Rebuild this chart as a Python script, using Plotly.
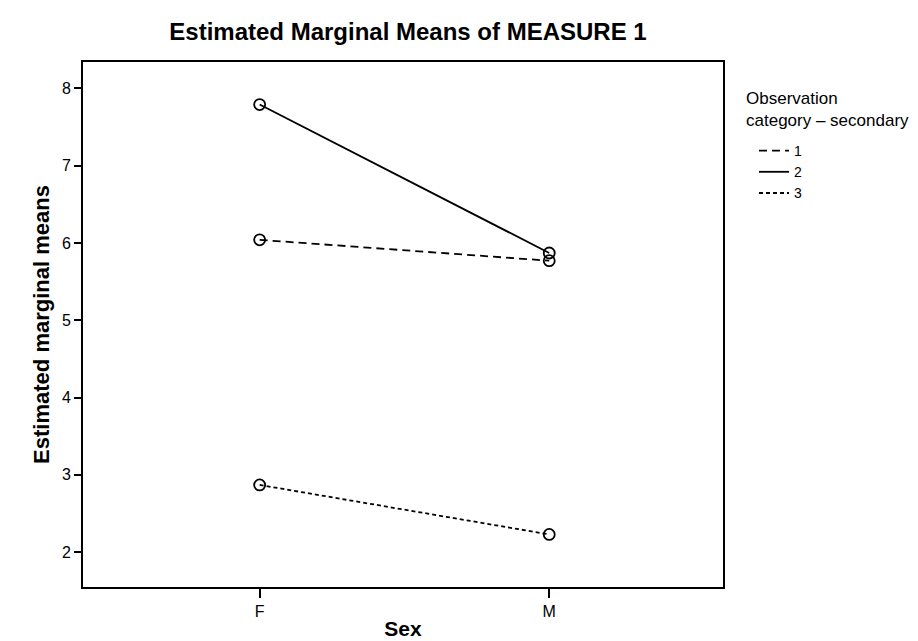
import plotly.graph_objects as go

# Data
sex = ["F", "M"]
series_names = ["1", "2", "3"]
cat1 = [6.04, 5.77]
cat2 = [7.79, 5.87]
cat3 = [2.87, 2.23]
values = [cat1, cat2, cat3]
y_ticks = [2, 3, 4, 5, 6, 7, 8]
legend_title = "Observation<br>category \u2013 secondary"

dashes = ["8px,5px", "solid", "4px,3px"]

fig = go.Figure()
for name, vals, dash in zip(series_names, values, dashes):
    fig.add_trace(go.Scatter(
        x=sex, y=vals, mode="lines", name=name,
        line=dict(color="black", width=1.8, dash=dash),
        showlegend=True,
    ))
for name, vals in zip(series_names, values):
    fig.add_trace(go.Scatter(
        x=sex, y=vals, mode="markers", name=name,
        marker=dict(symbol="circle-open", size=11, color="black",
                    line=dict(width=1.8, color="black")),
        showlegend=False,
    ))

font_family = "Liberation Sans, Arial, Helvetica, sans-serif"

fig.update_layout(
    width=918, height=641,
    paper_bgcolor="white", plot_bgcolor="white",
    margin=dict(l=75, r=203, t=54, b=47),
    font=dict(family=font_family, color="black", size=16),
    title=dict(text="<b>Estimated Marginal Means of MEASURE 1</b>",
               font=dict(size=24, family=font_family, color="black"),
               x=400 / 918, xanchor="center", y=1 - 24 / 641, yanchor="middle"),
    xaxis=dict(
        type="category", range=[-0.61, 1.60],
        showgrid=False, zeroline=False,
        showline=True, linecolor="black", linewidth=1.6, mirror=True,
        ticks="outside", ticklen=9, tickwidth=1.5, tickcolor="black",
        tickfont=dict(size=16),
        title=dict(text="<b>Sex</b>", font=dict(size=21), standoff=2),
    ),
    yaxis=dict(
        range=[1.55, 8.34], tickvals=y_ticks,
        showgrid=False, zeroline=False,
        showline=True, linecolor="black", linewidth=1.6, mirror=True,
        ticks="outside", ticklen=7, tickwidth=1.5, tickcolor="black",
        tickfont=dict(size=16),
        title=dict(text="<b>Estimated marginal means</b>", font=dict(size=22), standoff=6),
    ),
    legend=dict(
        x=746 / 918, xanchor="left", xref="container",
        y=1 - 127 / 641, yanchor="top", yref="container",
        font=dict(size=14),
        bgcolor="rgba(0,0,0,0)",
        tracegroupgap=0,
        itemwidth=30,
    ),
    annotations=[dict(
        text=legend_title, xref="paper", yref="paper",
        x=(736 - 75) / 640, y=1 + (54 - 80) / 540,
        xanchor="left", yanchor="top", align="left", showarrow=False,
        font=dict(size=17, family=font_family, color="black"),
    )],
)

fig.write_html("out.html")
